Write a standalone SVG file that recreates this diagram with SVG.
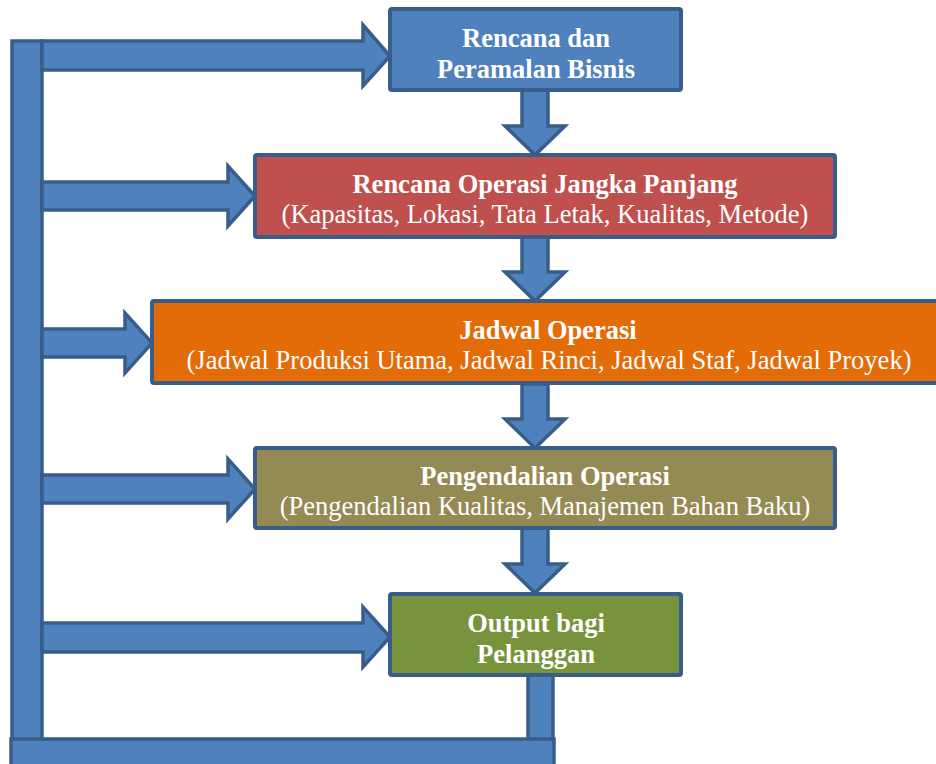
<svg xmlns="http://www.w3.org/2000/svg" width="936" height="764" viewBox="0 0 936 764">
<style>
.box{stroke:#385D8A;stroke-width:4;}
.arr{fill:#4F81BD;stroke:#385D8A;stroke-width:3.5;stroke-linejoin:miter;}
.t{font-family:'Liberation Serif','Times New Roman',serif;font-size:26.5px;fill:#FFFFFF;text-anchor:middle;}
.b{font-weight:bold;}
</style>
<rect width="936" height="764" fill="#FFFFFF"/>
<g id="connectors">
  <rect class="arr" x="12" y="41" width="30" height="700"/>
  <rect class="arr" x="528" y="674" width="25" height="66"/>
  <rect class="arr" x="11" y="739" width="543" height="30"/>
  <polygon class="arr" points="42,41 363,41 363,25 390,56 363,86 363,70 42,70"/>
  <polygon class="arr" points="42,182 228,182 228,166 255,196 228,226 228,210 42,210"/>
  <polygon class="arr" points="42,329 125,329 125,313 152,343 125,373 125,357 42,357"/>
  <polygon class="arr" points="42,475 228,475 228,459 255,489 228,519 228,503 42,503"/>
  <polygon class="arr" points="42,623 363,623 363,607 390,637 363,667 363,652 42,652"/>
  <polygon class="arr" points="522,90 548,90 548,126 565,126 535,155 505,126 522,126"/>
  <polygon class="arr" points="522,237 548,237 548,272 565,272 535,301 505,272 522,272"/>
  <polygon class="arr" points="522,384 548,384 548,419 565,419 535,448 505,419 522,419"/>
  <polygon class="arr" points="522,528 548,528 548,564 565,564 535,593 505,564 522,564"/>
</g>
<g id="node1">
  <rect class="box" x="390" y="9" width="291" height="81" rx="2" fill="#4F81BD"/>
  <text class="t b" x="536" y="47">Rencana dan</text>
  <text class="t b" x="536" y="78">Peramalan Bisnis</text>
</g>
<g id="node2">
  <rect class="box" x="255" y="155" width="580" height="82" rx="2" fill="#C0504D"/>
  <text class="t b" x="545" y="193">Rencana Operasi Jangka Panjang</text>
  <text class="t" x="545" y="223">(Kapasitas, Lokasi, Tata Letak, Kualitas, Metode)</text>
</g>
<g id="node3">
  <rect class="box" x="152" y="301" width="800" height="82" rx="2" fill="#E36C09"/>
  <text class="t b" x="548" y="339">Jadwal Operasi</text>
  <text class="t" x="549" y="369">(Jadwal Produksi Utama, Jadwal Rinci, Jadwal Staf, Jadwal Proyek)</text>
</g>
<g id="node4">
  <rect class="box" x="255" y="448" width="580" height="80" rx="2" fill="#948A54"/>
  <text class="t b" x="545" y="485">Pengendalian Operasi</text>
  <text class="t" x="545" y="515">(Pengendalian Kualitas, Manajemen Bahan Baku)</text>
</g>
<g id="node5">
  <rect class="box" x="390" y="594" width="291" height="81" rx="2" fill="#77933C"/>
  <text class="t b" x="536" y="632">Output bagi</text>
  <text class="t b" x="536" y="663">Pelanggan</text>
</g>
</svg>
